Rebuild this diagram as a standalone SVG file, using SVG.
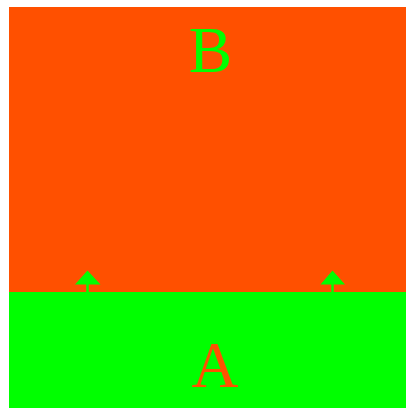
<svg xmlns="http://www.w3.org/2000/svg" width="406" height="408" viewBox="0 0 406 408">
<style>
.lbl{font-family:"Liberation Serif","Times New Roman",serif;font-size:65px;text-anchor:middle}
.stem{stroke:#00ff00;stroke-width:2.5}
.head{fill:#00ff00}
</style>
<rect x="0" y="0" width="406" height="408" fill="#ffffff"/>
<g id="B">
<rect x="9" y="7" width="397" height="285" fill="#ff5000"/>
<text class="lbl" x="210.5" y="72" fill="#00ff00">B</text>
</g>
<g id="A">
<rect x="9" y="292" width="397" height="116" fill="#00ff00"/>
<text class="lbl" x="215" y="387" fill="#ff5000">A</text>
</g>
<g id="connectors">
<line class="stem" x1="87.5" y1="292" x2="87.5" y2="283"/>
<polygon class="head" points="87.5,270.5 75,284.5 100.5,284.5"/>
<line class="stem" x1="332.5" y1="292" x2="332.5" y2="283"/>
<polygon class="head" points="332.5,270.5 320.5,284.5 345,284.5"/>
</g>
</svg>
